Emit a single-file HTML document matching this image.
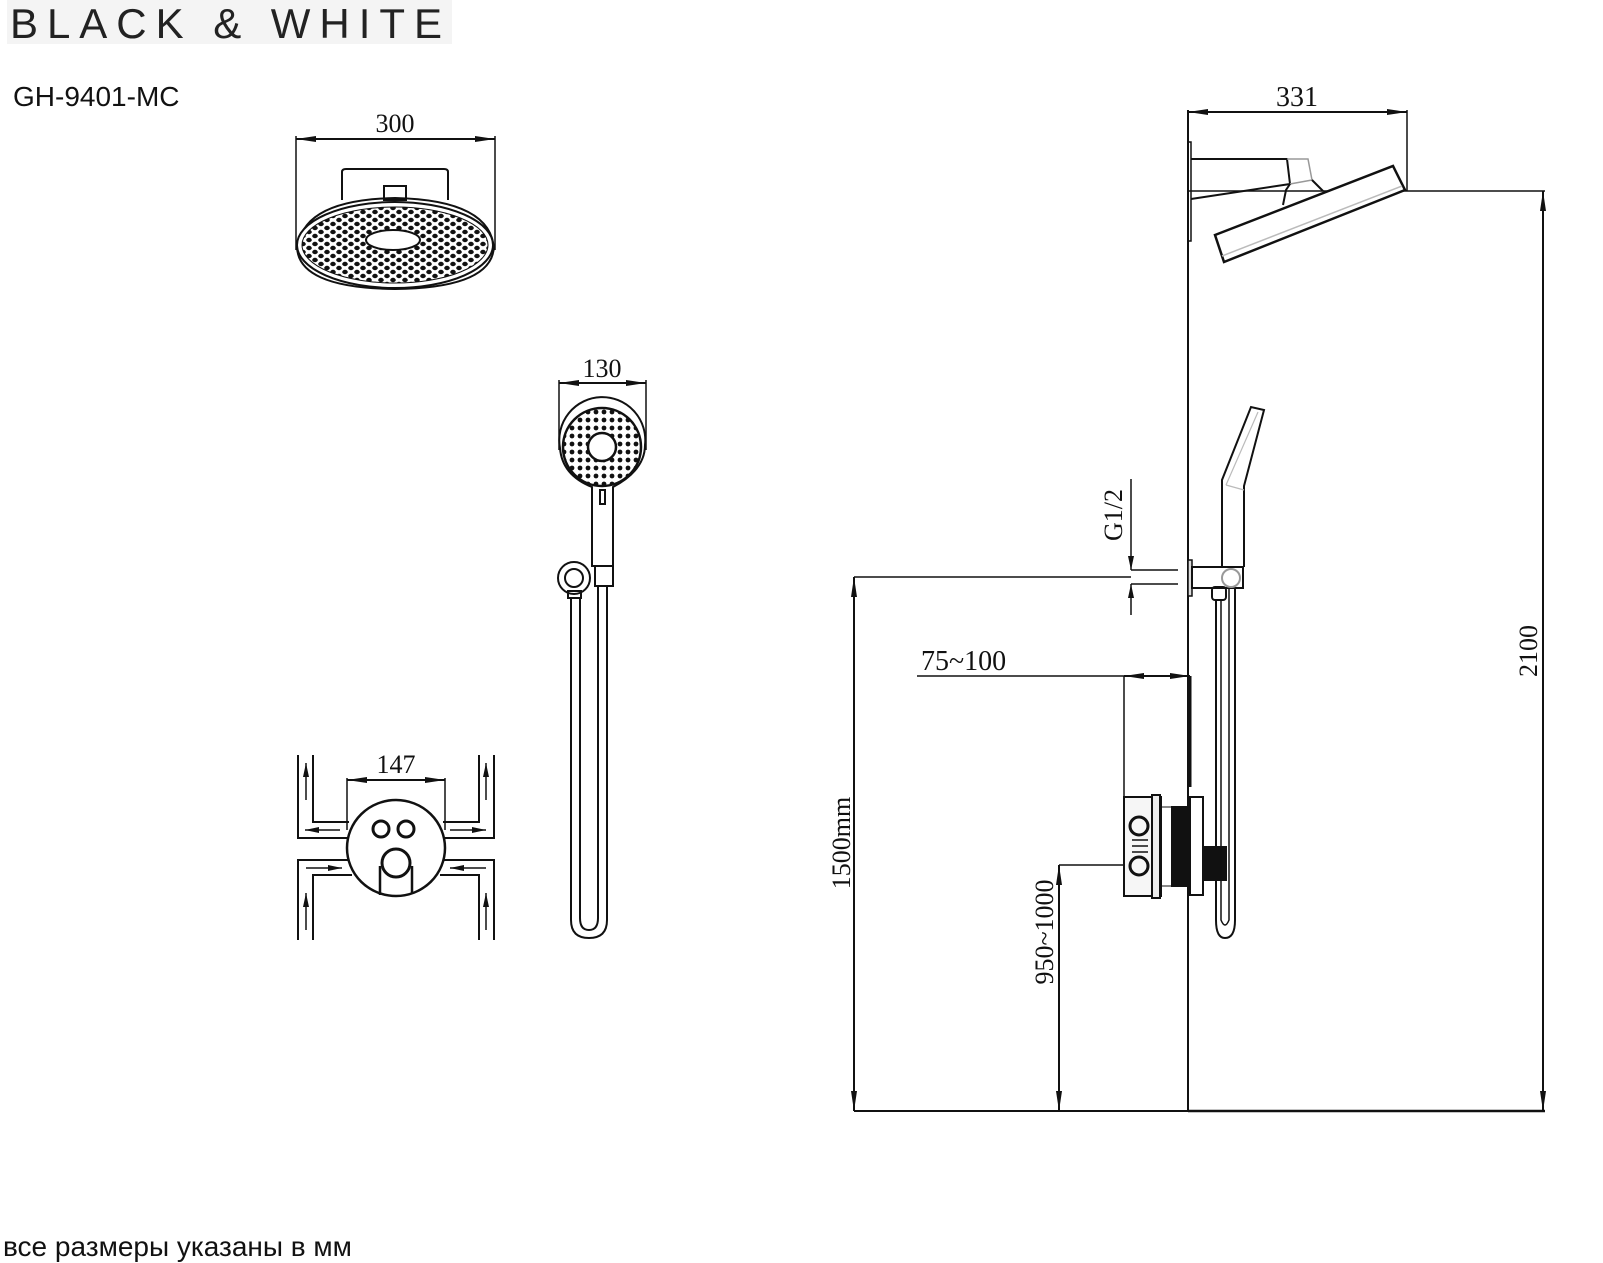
<!DOCTYPE html>
<html><head><meta charset="utf-8"><style>
html,body{margin:0;padding:0;background:#fff}
svg{display:block}
text{font-family:"Liberation Serif",serif;fill:#111}
</style></head><body>
<svg width="1603" height="1263" viewBox="0 0 1603 1263" xmlns="http://www.w3.org/2000/svg">
<defs>
<marker id="a" viewBox="0 0 20 6" refX="20" refY="3" markerWidth="20" markerHeight="6" markerUnits="userSpaceOnUse" orient="auto-start-reverse"><path d="M0,0 L20,3 L0,6 Z" fill="#111"/></marker>
<marker id="s" viewBox="0 0 14 6" refX="14" refY="3" markerWidth="14" markerHeight="6" markerUnits="userSpaceOnUse" orient="auto"><path d="M0,0 L14,3 L0,6 Z" fill="#111"/></marker>
<pattern id="dots" width="12" height="8" patternUnits="userSpaceOnUse"><ellipse cx="3" cy="4" rx="2.8" ry="2.2" fill="#111"/><ellipse cx="9" cy="0" rx="2.8" ry="2.2" fill="#111"/><ellipse cx="9" cy="8" rx="2.8" ry="2.2" fill="#111"/></pattern>
<pattern id="dots2" width="8" height="8" patternUnits="userSpaceOnUse"><circle cx="4" cy="4" r="2.4" fill="#111"/></pattern>
</defs>

<rect x="7" y="0" width="445" height="44" fill="#f4f4f4"/>
<text x="10" y="38" font-size="42" textLength="432" lengthAdjust="spacing" style="font-family:'Liberation Sans',sans-serif;fill:#222">BLACK &amp; WHITE</text>
<text x="13" y="106" style="font-family:'Liberation Sans',sans-serif" font-size="28">GH-9401-MC</text>

<g stroke="#111" fill="none" stroke-width="2">
<line x1="296" y1="139" x2="495" y2="139" marker-start="url(#a)" marker-end="url(#a)"/>
<line x1="296" y1="136" x2="296" y2="250" stroke-width="1.5"/>
<line x1="495" y1="136" x2="495" y2="250" stroke-width="1.5"/>
<path d="M342,200 V172 Q342,169 346,169 H444 Q448,169 448,172 V200"/>
<rect x="384" y="186" width="22" height="14"/>
<path d="M298,250 Q300,200 395,198 Q492,200 494,250"/>
<ellipse cx="395" cy="245" rx="98" ry="43" fill="#fff"/>
<ellipse cx="395" cy="245" rx="93" ry="38" fill="url(#dots)" stroke-width="1"/>
<ellipse cx="393" cy="240" rx="27" ry="10" fill="#fff"/>
<path d="M297,245 Q296,288 395,289 Q494,288 494,245"/>
</g>
<text x="395" y="132" font-size="26" text-anchor="middle">300</text>

<g stroke="#111" fill="none" stroke-width="2">
<line x1="559" y1="383" x2="646" y2="383" marker-start="url(#a)" marker-end="url(#a)"/>
<line x1="559" y1="380" x2="559" y2="450" stroke-width="1.5"/>
<line x1="646" y1="380" x2="646" y2="450" stroke-width="1.5"/>
<path d="M592,487 V566 H613 V487 Q645,470 645,445 A43,43 0 1 0 560,448 Q562,475 592,487 Z" fill="#fff"/>
<circle cx="602" cy="447" r="39" fill="url(#dots2)" stroke-width="2.5"/>
<circle cx="602" cy="447" r="14" fill="#fff" stroke-width="2.5"/>
<rect x="600" y="490" width="5" height="14"/>
<circle cx="574" cy="578" r="16"/>
<circle cx="574" cy="578" r="9"/>
<rect x="595" y="566" width="18" height="20"/>
<rect x="568" y="591" width="13" height="7"/>
<path d="M571,598 V920 Q571,938 589,938 Q607,938 607,920 V586"/>
<path d="M580,598 V918 Q580,930 589,930 Q598,930 598,918 V586"/>
</g>
<text x="602" y="377" font-size="26" text-anchor="middle">130</text>

<g stroke="#111" fill="none" stroke-width="2">
<line x1="347" y1="780" x2="445" y2="780" marker-start="url(#a)" marker-end="url(#a)"/>
<line x1="347" y1="778" x2="347" y2="830" stroke-width="1.5"/>
<line x1="445" y1="778" x2="445" y2="830" stroke-width="1.5"/>
<path d="M298,755 V838 H350 M313,755 V822 H349"/>
<path d="M298,940 V860 H350 M313,940 V875 H352"/>
<path d="M494,755 V838 H442 M479,755 V822 H443"/>
<path d="M494,940 V860 H442 M479,940 V875 H440"/>
<ellipse cx="396" cy="848" rx="49" ry="48" fill="#fff" stroke-width="2.5"/>
<circle cx="381" cy="829" r="8" stroke-width="3"/>
<circle cx="406" cy="829" r="8" stroke-width="3"/>
<circle cx="396" cy="863" r="14" stroke-width="3"/>
<path d="M380,866 V895 M412,866 V893" stroke-width="2.5"/>
<g stroke-width="1.5">
<line x1="306" y1="800" x2="306" y2="763" marker-end="url(#s)"/>
<line x1="486" y1="800" x2="486" y2="763" marker-end="url(#s)"/>
<line x1="306" y1="930" x2="306" y2="893" marker-end="url(#s)"/>
<line x1="486" y1="930" x2="486" y2="893" marker-end="url(#s)"/>
<line x1="340" y1="830" x2="305" y2="830" marker-end="url(#s)"/>
<line x1="450" y1="830" x2="486" y2="830" marker-end="url(#s)"/>
<line x1="306" y1="868" x2="342" y2="868" marker-end="url(#s)"/>
<line x1="486" y1="868" x2="450" y2="868" marker-end="url(#s)"/>
</g>
</g>
<text x="396" y="773" font-size="26" text-anchor="middle">147</text>

<g stroke="#111" fill="none" stroke-width="2">
<line x1="1188" y1="112" x2="1407" y2="112" marker-start="url(#a)" marker-end="url(#a)"/>
<line x1="1407" y1="110" x2="1407" y2="191" stroke-width="1.5"/>
<line x1="1188" y1="110" x2="1188" y2="1111"/>
<line x1="1188" y1="191" x2="1545" y2="191" stroke-width="1.5"/>
<line x1="1188" y1="1111" x2="1545" y2="1111" stroke-width="2.5"/>
<line x1="854" y1="1111" x2="1188" y2="1111"/>
<rect x="1188" y="142" width="3" height="99" stroke-width="1.5"/>
<path d="M1191,159 H1287 L1290,184 L1191,199" stroke-width="2"/>
<path d="M1287,159 H1308 L1312,180 L1290,184" stroke="#999" stroke-width="1.5"/>
<path d="M1312,180 L1323,191 M1290,184 L1286,190 L1283,205"/>
<path d="M1215,235 L1393,166 L1405,190 L1224,262 Z" fill="#fff" stroke-width="2.5"/>
<path d="M1222,256 L1402,186" stroke="#bbb" stroke-width="1.5"/>
<line x1="1543" y1="191" x2="1543" y2="1111" marker-start="url(#a)" marker-end="url(#a)"/>
<line x1="1131" y1="479" x2="1131" y2="570" marker-end="url(#s)" stroke-width="1.5"/>
<line x1="1131" y1="615" x2="1131" y2="584" marker-end="url(#s)" stroke-width="1.5"/>
<path d="M1131,570 H1178 M1131,584 H1178" stroke-width="1.5"/>
<rect x="1188" y="560" width="4" height="36" fill="#ddd" stroke-width="1.5"/>
<line x1="854" y1="577" x2="1131" y2="577" stroke-width="1.5"/>
<line x1="854" y1="577" x2="854" y2="1111" marker-start="url(#a)" marker-end="url(#a)"/>
<line x1="917" y1="676" x2="1124" y2="676" stroke-width="1.5"/>
<line x1="1124" y1="676" x2="1190" y2="676" marker-start="url(#a)" marker-end="url(#a)"/>
<line x1="1124" y1="676" x2="1124" y2="797" stroke-width="1.5"/>
<line x1="1190" y1="676" x2="1190" y2="787" stroke-width="3"/>
<line x1="1059" y1="865" x2="1130" y2="865" stroke-width="1.5"/>
<line x1="1059" y1="865" x2="1059" y2="1111" marker-start="url(#a)" marker-end="url(#a)"/>
<rect x="1124" y="797" width="37" height="99" fill="#f6f6f6"/>
<rect x="1152" y="795" width="8" height="103" fill="#eee"/>
<circle cx="1139" cy="826" r="9" stroke-width="3"/>
<circle cx="1139" cy="866" r="9" stroke-width="3"/>
<path d="M1132,840 H1148 M1132,846 H1148 M1132,852 H1148" stroke-width="1.5"/>
<rect x="1172" y="807" width="18" height="79" fill="#111"/>
<rect x="1160" y="807" width="12" height="79" stroke-width="1"/>
<rect x="1190" y="797" width="13" height="98"/>
<rect x="1205" y="847" width="21" height="33" fill="#111"/>
<path d="M1222,567 V480 L1251,407 L1264,410 L1244,486 V567" fill="#fff"/>
<path d="M1226,485 L1258,412 M1226,485 L1244,490" stroke="#bbb" stroke-width="1.2"/>
<rect x="1192" y="567" width="51" height="21" fill="#fff"/>
<circle cx="1231" cy="578" r="9" stroke="#999"/>
<rect x="1212" y="587" width="14" height="13" rx="3"/>
<path d="M1216,600 V920 Q1216,938 1225,938 Q1235,938 1235,920 V588" stroke-width="2"/>
<path d="M1221,600 V920 Q1225,930 1229,920 V588" stroke-width="1.5"/>
</g>
<text x="1297" y="106" font-size="28" text-anchor="middle">331</text>
<text x="921" y="670" font-size="28">75~100</text>
<text transform="translate(1122,515) rotate(-90)" font-size="26" text-anchor="middle">G1/2</text>
<text transform="translate(850,843) rotate(-90)" font-size="26" text-anchor="middle">1500mm</text>
<text transform="translate(1053,932) rotate(-90)" font-size="26" text-anchor="middle">950~1000</text>
<text transform="translate(1537,651) rotate(-90)" font-size="26" text-anchor="middle">2100</text>
<text x="3" y="1256" font-size="28" style="font-family:'Liberation Sans',sans-serif">все размеры указаны в мм</text>
</svg>
</body></html>
